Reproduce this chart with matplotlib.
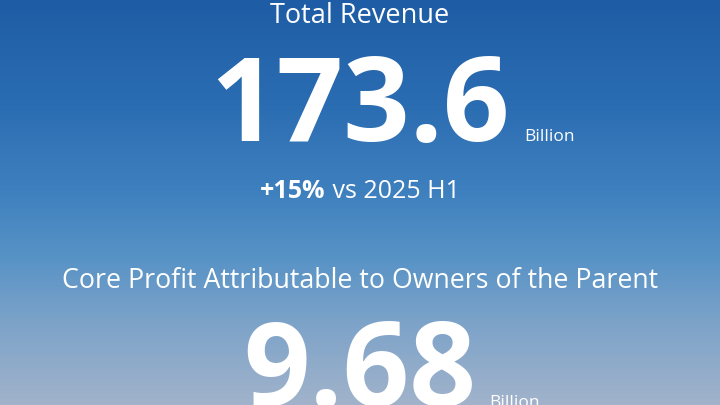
import numpy as np
import matplotlib.pyplot as plt
from matplotlib.colors import LinearSegmentedColormap

# KPI card content
metric_names = ["Total Revenue", "Core Profit Attributable to Owners of the Parent"]
metric_values = ["173.6", "9.68"]
unit = "Billion"
change_pct = "+15%"
change_ref = "vs 2025 H1"

W, H = 720, 405
fig = plt.figure(figsize=(W / 100, H / 100), dpi=100)
ax = fig.add_axes([0, 0, 1, 1])
ax.set_xlim(0, W)
ax.set_ylim(H, 0)
ax.axis("off")

# vertical gradient background
bg = LinearSegmentedColormap.from_list("bg", [
    (0.00, "#1e5da5"),
    (0.25, "#2a6cb1"),
    (0.48, "#3f81bf"),
    (0.64, "#5893c6"),
    (0.80, "#7da3c9"),
    (1.00, "#a1b3cb"),
])
grad = np.linspace(0, 1, 256).reshape(-1, 1)
ax.imshow(grad, cmap=bg, extent=[0, W, H, 0], aspect="auto", zorder=0)

font = "Open Sans"
cx = 360

# block 1
ax.text(cx, 23, metric_names[0], color="white", fontsize=19.5, family=font,
        ha="center", va="baseline")
ax.text(cx, 141, metric_values[0], color="white", fontsize=84, family=font,
        weight="bold", ha="center", va="baseline")
ax.text(524, 141, unit, color="white", fontsize=12.5, family=font,
        ha="left", va="baseline")

# change line, two weights centred together
fig.canvas.draw()
r = fig.canvas.get_renderer()
t1 = ax.text(0, 198, change_pct, color="white", fontsize=18, family=font,
             weight="bold", ha="left", va="baseline")
t2 = ax.text(0, 198, " " + change_ref, color="white", fontsize=18, family=font,
             ha="left", va="baseline")
w1 = t1.get_window_extent(r).width
w2 = t2.get_window_extent(r).width
x0 = cx - (w1 + w2) / 2
t1.set_x(x0)
t2.set_x(x0 + w1)

# block 2
ax.text(cx, 288, metric_names[1], color="white", fontsize=19.3, family=font,
        ha="center", va="baseline")
ax.text(cx, 406, metric_values[1], color="white", fontsize=84, family=font,
        weight="bold", ha="center", va="baseline")
ax.text(489, 407, unit, color="white", fontsize=12.5, family=font,
        ha="left", va="baseline")

fig.savefig("out.png", dpi=100)
